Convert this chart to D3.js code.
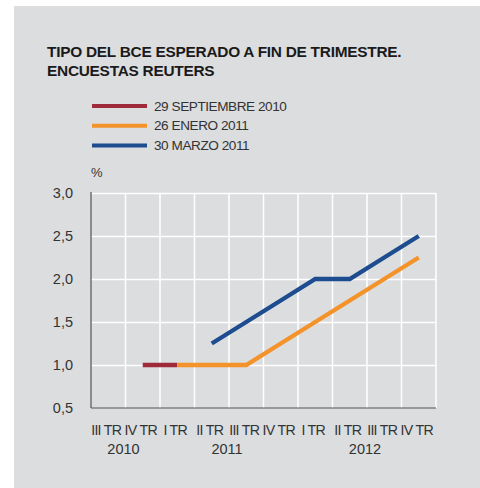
<!DOCTYPE html>
<html lang="es">
<head>
  <meta charset="utf-8">
  <title>Tipo del BCE esperado a fin de trimestre</title>
  <style>
    body { margin: 0; background: #fff; font-family: "Liberation Sans", Arial, sans-serif; }
    svg text { fill: #333; }
    .grid line { stroke: #fff; stroke-width: 1.5px; }
    .grid path { display: none; }
  </style>
</head>
<body>
  <svg id="chart" width="480" height="488"></svg>

  <script src="https://d3js.org/d3.v7.min.js"></script>
  <script>
    // quarters (key, label, year)
    const quarters = ["2010-III", "2010-IV", "2011-I", "2011-II", "2011-III", "2011-IV",
                      "2012-I", "2012-II", "2012-III", "2012-IV"];
    const quarterLabels = ["III TR", "IV TR", "I TR", "II TR", "III TR", "IV TR",
                           "I TR", "II TR", "III TR", "IV TR"];
    const years = [
      { year: "2010", from: "2010-III", to: "2010-IV" },
      { year: "2011", from: "2011-I", to: "2011-IV" },
      { year: "2012", from: "2012-I", to: "2012-IV" }
    ];
    const yTicks = [0.5, 1.0, 1.5, 2.0, 2.5, 3.0];

    const sep2010 = [["2010-IV", 1.0], ["2011-I", 1.0]];
    const ene2011 = [["2011-I", 1.0], ["2011-II", 1.0], ["2011-III", 1.0], ["2011-IV", 1.25],
                     ["2012-I", 1.5], ["2012-II", 1.75], ["2012-III", 2.0], ["2012-IV", 2.25]];
    const mar2011 = [["2011-II", 1.25], ["2011-III", 1.5], ["2011-IV", 1.75], ["2012-I", 2.0],
                     ["2012-II", 2.0], ["2012-III", 2.25], ["2012-IV", 2.5]];

    const series = [
      { name: "29 SEPTIEMBRE 2010", color: "#9e2a3c", values: sep2010 },
      { name: "26 ENERO 2011", color: "#f39329", values: ene2011 },
      { name: "30 MARZO 2011", color: "#1d4c8f", values: mar2011 }
    ];

    const svg = d3.select("#chart");

    // grey panel
    svg.append("rect")
      .attr("x", 14).attr("y", 6)
      .attr("width", 466).attr("height", 482)
      .attr("fill", "#dcdddf");

    // title
    const title = svg.append("text")
      .attr("x", 47).attr("y", 57)
      .attr("font-size", 15.4)
      .attr("font-weight", "bold")
      .attr("letter-spacing", -0.25)
      .style("fill", "#1a1a1a");
    title.append("tspan").attr("x", 47).text("TIPO DEL BCE ESPERADO A FIN DE TRIMESTRE.");
    title.append("tspan").attr("x", 47).attr("dy", 18.5).text("ENCUESTAS REUTERS");

    const plotL = 91, plotR = 436, plotT = 193, plotB = 408;

    const x = d3.scaleBand().domain(quarters).range([plotL, plotR]);
    const y = d3.scaleLinear().domain([0.5, 3]).range([plotB, plotT]);

    // legend
    const legend = svg.append("g")
      .selectAll("g")
      .data(series)
      .join("g")
      .attr("transform", (d, i) => `translate(92,${106 + i * 19.7})`);
    legend.append("line")
      .attr("x1", 0).attr("x2", 55)
      .attr("stroke", d => d.color)
      .attr("stroke-width", 4);
    legend.append("text")
      .attr("x", 62).attr("dy", "0.35em")
      .attr("font-size", 13.6)
      .attr("letter-spacing", -0.45)
      .text(d => d.name);

    svg.append("text")
      .attr("x", 91).attr("y", 177)
      .attr("font-size", 13)
      .text("%");

    // horizontal grid
    svg.append("g")
      .attr("class", "grid")
      .attr("transform", `translate(${plotL},0)`)
      .call(d3.axisRight(y).tickValues(yTicks.slice(1)).tickSize(plotR - plotL).tickFormat(""));

    // vertical grid at band edges
    svg.append("g")
      .attr("class", "grid")
      .attr("transform", `translate(0,${plotB})`)
      .call(d3.axisTop(x).tickSize(plotB - plotT).tickFormat("").offset(0))
      .selectAll(".tick")
      .attr("transform", d => `translate(${x(d) + x.bandwidth()},0)`);

    // axes lines
    svg.append("line")
      .attr("x1", plotL).attr("x2", plotL).attr("y1", plotT - 1).attr("y2", plotB)
      .attr("stroke", "#555").attr("stroke-width", 1.2);
    svg.append("line")
      .attr("x1", plotL).attr("x2", plotR).attr("y1", plotB).attr("y2", plotB)
      .attr("stroke", "#555").attr("stroke-width", 1.2);

    // y labels
    const yAxis = svg.append("g")
      .attr("transform", `translate(${plotL},0)`)
      .call(d3.axisLeft(y).tickValues(yTicks).tickSize(0).tickPadding(18)
        .tickFormat(d => d3.format(".1f")(d).replace(".", ",")));
    yAxis.select(".domain").remove();
    yAxis.selectAll("text").attr("font-size", 14.5).attr("font-family", "Liberation Sans, Arial, sans-serif")
      .style("fill", "#333");

    // x labels
    const xAxis = svg.append("g")
      .attr("transform", `translate(-2,${plotB})`)
      .call(d3.axisBottom(x).tickSize(0).tickPadding(17).tickFormat((d, i) => quarterLabels[i]));
    xAxis.select(".domain").remove();
    xAxis.selectAll("text").attr("font-size", 14.2).attr("letter-spacing", -0.7)
      .attr("font-family", "Liberation Sans, Arial, sans-serif").style("fill", "#333");

    svg.append("g")
      .selectAll("text")
      .data(years)
      .join("text")
      .attr("x", d => (x(d.from) + x(d.to) + x.bandwidth()) / 2 - 2)
      .attr("y", 454)
      .attr("text-anchor", "middle")
      .attr("font-size", 14.5)
      .text(d => d.year);

    // lines
    const line = d3.line()
      .x(d => x(d[0]) + x.bandwidth() / 2)
      .y(d => y(d[1]));

    svg.append("g")
      .selectAll("path")
      .data(series)
      .join("path")
      .attr("d", d => line(d.values))
      .attr("fill", "none")
      .attr("stroke", d => d.color)
      .attr("stroke-width", 4.4);
  </script>
</body>
</html>
